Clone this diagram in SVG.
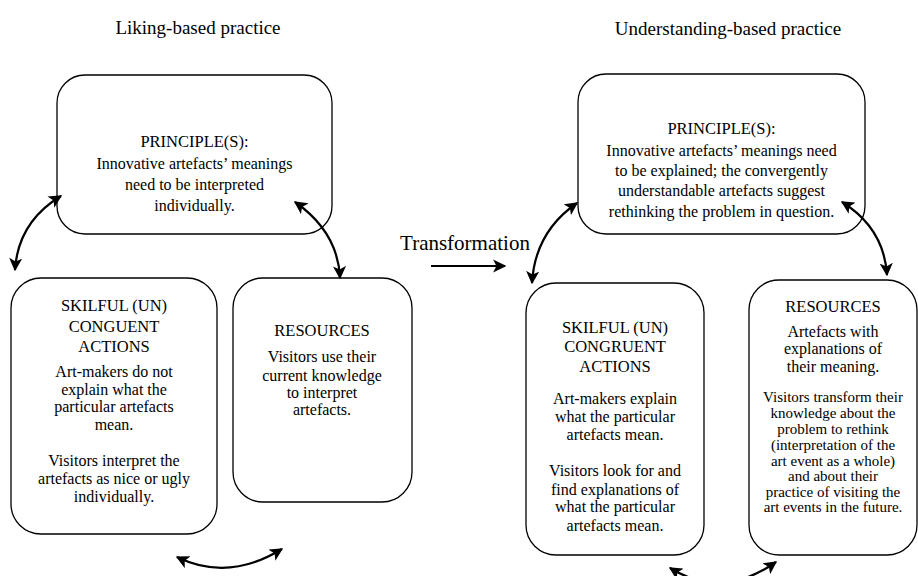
<svg xmlns="http://www.w3.org/2000/svg" width="918" height="576" viewBox="0 0 918 576">
<defs>
<marker id="ah" viewBox="0 0 10 10" refX="9" refY="5" markerWidth="6" markerHeight="6" orient="auto-start-reverse" markerUnits="strokeWidth">
<path d="M0,0 L10,5 L0,10 L2.5,5 z" fill="#000"/>
</marker>
<style>
text{font-family:"Liberation Serif","Times New Roman",serif;fill:#000;text-anchor:middle}
.hdr{font-size:19px}
.ttl{font-size:16.5px}
.bd{font-size:16px}
.sm{font-size:15px}
.tr{font-size:21px}
.box{fill:#fff;stroke:#000;stroke-width:1.3}
.con{fill:none;stroke:#000;stroke-width:2.2}
</style>
</defs>
<rect width="918" height="576" fill="#fff"/>
<text class="hdr" x="198" y="34">Liking-based practice</text>
<text class="hdr" x="728" y="35">Understanding-based practice</text>

<g id="left-principle">
<rect class="box" x="57" y="75" width="275" height="159" rx="28"/>
<text class="ttl" x="194.5" y="147">PRINCIPLE(S):</text>
<text class="bd" x="194.5" y="169">Innovative artefacts’ meanings</text>
<text class="bd" x="194.5" y="190">need to be interpreted</text>
<text class="bd" x="194.5" y="211">individually.</text>
</g>

<g id="left-actions">
<rect class="box" x="11" y="278" width="206" height="256" rx="30"/>
<text class="ttl" x="114" y="311">SKILFUL (UN)</text>
<text class="ttl" x="114" y="332">CONGUENT</text>
<text class="ttl" x="114" y="352">ACTIONS</text>
<text class="bd" x="114" y="377">Art-makers do not</text>
<text class="bd" x="114" y="395">explain what the</text>
<text class="bd" x="114" y="412">particular artefacts</text>
<text class="bd" x="114" y="430">mean.</text>
<text class="bd" x="114" y="466">Visitors interpret the</text>
<text class="bd" x="114" y="484">artefacts as nice or ugly</text>
<text class="bd" x="114" y="502">individually.</text>
</g>

<g id="left-resources">
<rect class="box" x="233" y="278" width="179" height="224" rx="30"/>
<text class="ttl" x="322" y="336">RESOURCES</text>
<text class="bd" x="322" y="362">Visitors use their</text>
<text class="bd" x="322" y="381">current knowledge</text>
<text class="bd" x="322" y="398">to interpret</text>
<text class="bd" x="322" y="415">artefacts.</text>
</g>

<text class="tr" x="465" y="250">Transformation</text>

<g id="right-principle">
<rect class="box" x="578" y="74" width="287" height="160" rx="28"/>
<text class="ttl" x="721.5" y="134">PRINCIPLE(S):</text>
<text class="bd" x="721.5" y="156">Innovative artefacts’ meanings need</text>
<text class="bd" x="721.5" y="176">to be explained; the convergently</text>
<text class="bd" x="721.5" y="196">understandable artefacts suggest</text>
<text class="bd" x="721.5" y="217">rethinking the problem in question.</text>
</g>

<g id="right-actions">
<rect class="box" x="526" y="283" width="178" height="272" rx="30"/>
<text class="ttl" x="615" y="333">SKILFUL (UN)</text>
<text class="ttl" x="615" y="352">CONGRUENT</text>
<text class="ttl" x="615" y="372">ACTIONS</text>
<text class="bd" x="615" y="404">Art-makers explain</text>
<text class="bd" x="615" y="422">what the particular</text>
<text class="bd" x="615" y="440">artefacts mean.</text>
<text class="bd" x="615" y="476">Visitors look for and</text>
<text class="bd" x="615" y="495">find explanations of</text>
<text class="bd" x="615" y="512">what the particular</text>
<text class="bd" x="615" y="531">artefacts mean.</text>
</g>

<g id="right-resources">
<rect class="box" x="749" y="280" width="168" height="275" rx="30"/>
<text class="ttl" x="833" y="312">RESOURCES</text>
<text class="bd" x="833" y="337">Artefacts with</text>
<text class="bd" x="833" y="354">explanations of</text>
<text class="bd" x="833" y="372">their meaning.</text>
<text class="sm" x="833" y="402">Visitors transform their</text>
<text class="sm" x="833" y="418">knowledge about the</text>
<text class="sm" x="833" y="434">problem to rethink</text>
<text class="sm" x="833" y="450">(interpretation of the</text>
<text class="sm" x="833" y="466">art event as a whole)</text>
<text class="sm" x="833" y="481">and about their</text>
<text class="sm" x="833" y="497">practice of visiting the</text>
<text class="sm" x="833" y="512">art events in the future.</text>
</g>

<g id="connectors">
<path class="con" d="M61,196 Q18,222 15,270" marker-start="url(#ah)" marker-end="url(#ah)"/>
<path class="con" d="M295,202 Q338,232 340,278" marker-start="url(#ah)" marker-end="url(#ah)"/>
<path class="con" d="M177,557 Q228,582 282,549" marker-start="url(#ah)" marker-end="url(#ah)"/>
<path class="con" d="M577,203 Q535,232 532,283" marker-start="url(#ah)" marker-end="url(#ah)"/>
<path class="con" d="M842,202 Q884,228 887,275" marker-start="url(#ah)" marker-end="url(#ah)"/>
<path class="con" d="M670,568 Q722,600 776,562" marker-start="url(#ah)" marker-end="url(#ah)"/>
<path class="con" d="M431,266 L505,266" marker-end="url(#ah)"/>
</g>
</svg>
